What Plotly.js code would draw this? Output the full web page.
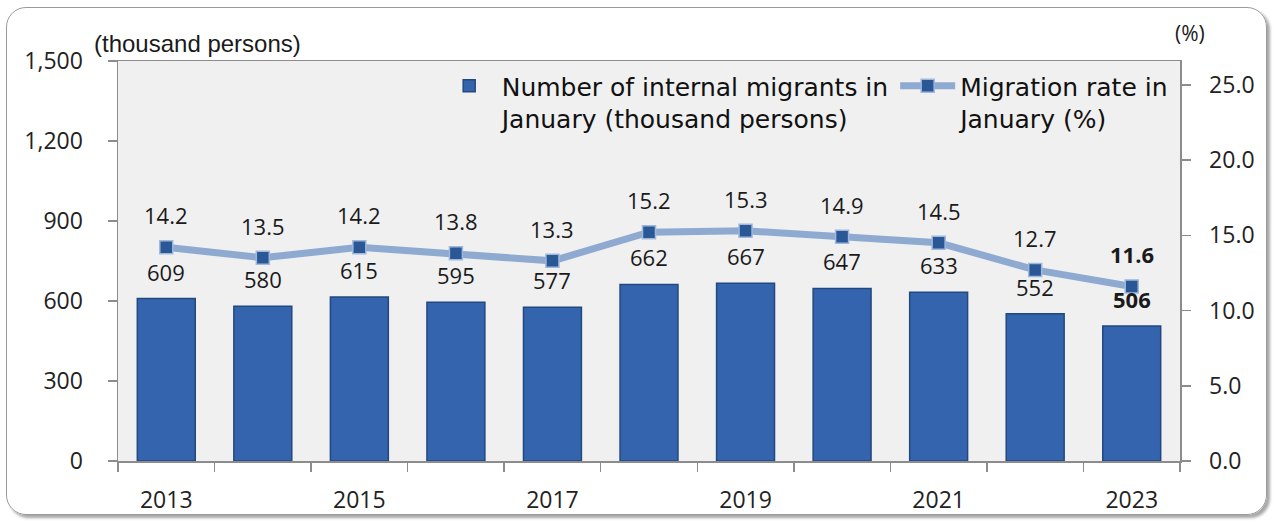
<!DOCTYPE html>
<html>
<head>
<meta charset="utf-8">
<script src="https://cdn.plot.ly/plotly-3.0.1.min.js"></script>
<style>
  html, body { margin: 0; padding: 0; background: #ffffff; }
  #wrap { position: relative; width: 1275px; height: 523px; }
  #chart { position: absolute; left: 0; top: 0; width: 1275px; height: 523px; }
  #frame { position: absolute; left: 6px; top: 7px; width: 1259px; height: 506px;
           border: 1.5px solid #9a9a9a; border-radius: 20px;
           box-shadow: 3px 3px 3px rgba(0,0,0,0.35); pointer-events: none; }
</style>
</head>
<body>
<div id="wrap">
  <div id="chart"></div>
  <div id="frame"></div>
</div>
<script>
const years = [2013, 2014, 2015, 2016, 2017, 2018, 2019, 2020, 2021, 2022, 2023];
const migrants = [609, 580, 615, 595, 577, 662, 667, 647, 633, 552, 506];
const rates = [14.2, 13.5, 14.2, 13.8, 13.3, 15.2, 15.3, 14.9, 14.5, 12.7, 11.6];
const xTickVals = [2013, 2015, 2017, 2019, 2021, 2023];
const leftTicks = [0, 300, 600, 900, 1200, 1500];
const leftTickText = ['0', '300', '600', '900', '1,200', '1,500'];
const rightTicks = [0, 5, 10, 15, 20, 25];
const rightTickText = ['0.0', '5.0', '10.0', '15.0', '20.0', '25.0'];
const barName = 'Number of internal migrants in<br>January (thousand persons)';
const lineName = 'Migration rate in<br>January (%)';

const labelFont = 'Open Sans, DejaVu Sans, sans-serif';
const lastIdx = years.length - 1;

const annotations = [];
years.forEach((yr, i) => {
  const bold = i === lastIdx;
  annotations.push({
    x: yr, y: migrants[i], xref: 'x', yref: 'y',
    text: bold ? '<b>' + migrants[i] + '</b>' : String(migrants[i]),
    showarrow: false, yanchor: 'middle', yshift: 27,
    font: { family: labelFont, size: 22, color: '#1a1a1a' }
  });
  annotations.push({
    x: yr, y: rates[i], xref: 'x', yref: 'y2',
    text: bold ? '<b>' + rates[i].toFixed(1) + '</b>' : rates[i].toFixed(1),
    showarrow: false, yanchor: 'middle', yshift: 32,
    font: { family: labelFont, size: 22, color: '#1a1a1a' }
  });
});
annotations.push({
  text: '(thousand persons)', xref: 'paper', yref: 'paper',
  x: -0.0245, y: 1.045, xanchor: 'left', yanchor: 'middle', showarrow: false,
  font: { family: 'Liberation Sans, Arial, sans-serif', size: 24, color: '#1a1a1a' }
});
annotations.push({
  text: '(%)', xref: 'paper', yref: 'paper',
  x: 1.0094, y: 1.07, xanchor: 'center', yanchor: 'middle', showarrow: false,
  font: { family: labelFont, size: 21, color: '#1a1a1a' }
});

const traces = [
  {
    type: 'bar', x: years, y: migrants, name: barName, yaxis: 'y',
    width: 0.6,
    marker: { color: '#3364ad', line: { color: '#23487f', width: 1.5 } },
    hoverinfo: 'skip'
  },
  {
    type: 'scatter', mode: 'lines+markers', x: years, y: rates, name: lineName, yaxis: 'y2',
    line: { color: '#8faad0', width: 7 },
    marker: { symbol: 'square', size: 13, color: '#2a5896', line: { color: '#9fb8dc', width: 1.5 } },
    hoverinfo: 'skip'
  }
];

const layout = {
  width: 1275, height: 523,
  margin: { l: 118, r: 95, t: 61, b: 62 },
  paper_bgcolor: 'rgba(0,0,0,0)',
  plot_bgcolor: '#f0f0f0',
  showlegend: true,
  legend: {
    orientation: 'h', x: 0.995, xanchor: 'right', y: 0.995, yanchor: 'top',
    valign: 'top', bgcolor: 'rgba(0,0,0,0)', traceorder: 'normal',
    font: { family: 'DejaVu Sans, Liberation Sans, sans-serif', size: 25, color: '#111' },
    itemwidth: 55
  },
  xaxis: {
    type: 'linear', range: [2012.5, 2023.5],
    tickvals: xTickVals, ticktext: xTickVals.map(String),
    ticks: '', ticklabelstandoff: 18,
    tickfont: { family: labelFont, size: 23, color: '#222' },
    showline: true, linecolor: '#8c8c8c', linewidth: 1.5, mirror: true,
    showgrid: false, zeroline: false,
    minor: { tick0: 2012.5, dtick: 1, ticks: 'outside', ticklen: 9, tickcolor: '#8c8c8c', tickwidth: 1.5, showgrid: false }
  },
  yaxis: {
    range: [0, 1500], tickvals: leftTicks, ticktext: leftTickText,
    ticks: 'outside', ticklen: 9, tickcolor: '#8c8c8c', tickwidth: 1.5,
    ticklabelstandoff: 20,
    tickfont: { family: labelFont, size: 23, color: '#222' },
    showline: true, linecolor: '#8c8c8c', linewidth: 1.5,
    showgrid: false, zeroline: false
  },
  yaxis2: {
    overlaying: 'y', side: 'right',
    range: [0, 26.58], tickvals: rightTicks, ticktext: rightTickText,
    ticks: 'outside', ticklen: 9, tickcolor: '#8c8c8c', tickwidth: 1.5,
    ticklabelstandoff: 14,
    tickfont: { family: labelFont, size: 23, color: '#222' },
    showline: true, linecolor: '#8c8c8c', linewidth: 1.5,
    showgrid: false, zeroline: false
  },
  annotations: annotations
};

Plotly.newPlot('chart', traces, layout, { displayModeBar: false, staticPlot: true });
</script>
</body>
</html>
